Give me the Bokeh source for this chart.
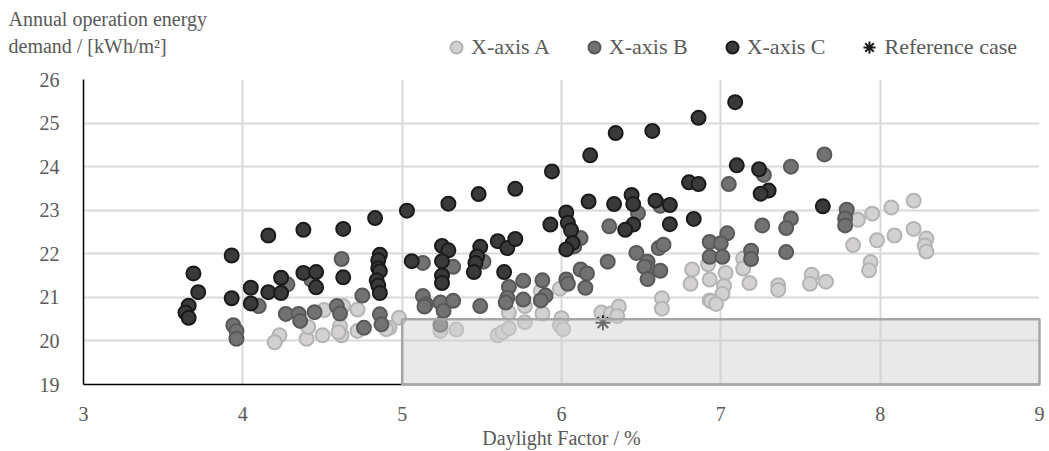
from bokeh.plotting import figure
from bokeh.models import Range1d, Label, Legend, LegendItem, FixedTicker
from bokeh.layouts import column
from bokeh.embed import file_html
from bokeh.resources import INLINE

# ---------------- data ----------------
a_x = [4.23, 4.20, 4.40, 4.41, 4.50, 4.51, 4.61, 4.62, 4.63, 4.72, 4.72, 4.92, 4.98, 4.90, 4.60,
       5.24, 5.34, 5.67, 5.77, 5.88, 5.87, 5.99, 5.77, 5.60, 5.63, 5.67, 6.00, 5.99, 6.01, 6.25,
       6.31, 6.36, 6.35, 6.63, 6.63, 6.82, 6.81, 6.92, 6.93, 6.93,
       8.21, 8.07, 7.95, 7.86, 8.21, 8.09, 7.98, 7.83, 8.29, 8.28, 8.29, 7.94, 7.93, 7.57, 7.56,
       7.66, 7.36, 7.36, 7.18, 7.14, 7.14, 7.03, 7.02, 7.01, 6.94, 6.97]
a_y = [20.13, 19.97, 20.05, 20.32, 20.13, 20.71, 20.34, 20.13, 20.80, 20.72, 20.23, 20.30, 20.53, 20.27, 20.20,
       20.23, 20.26, 20.65, 20.80, 20.63, 21.14, 21.20, 20.43, 20.13, 20.20, 20.29, 20.52, 20.36, 20.27, 20.65,
       20.63, 20.79, 20.57, 20.98, 20.74, 21.64, 21.31, 21.76, 21.41, 20.93,
       23.22, 23.06, 22.92, 22.78, 22.57, 22.42, 22.31, 22.20, 22.35, 22.19, 22.05, 21.81, 21.62, 21.52, 21.31,
       21.36, 21.28, 21.17, 21.33, 21.89, 21.66, 21.56, 21.26, 21.08, 20.91, 20.85]

b_x = [4.62, 4.28, 4.10, 3.94, 3.96, 3.96, 4.27, 4.35, 4.36, 4.45, 4.59, 4.61, 4.75, 4.76, 4.86, 4.87, 4.43,
       5.13, 5.32, 5.51, 5.13, 5.15, 5.14, 5.24, 5.26, 5.32, 5.24, 5.49, 5.67, 5.66, 5.65, 5.76, 5.76,
       5.88, 5.90, 5.87, 6.03, 6.04, 6.12, 6.16, 6.15, 6.12, 6.08, 6.30, 6.48, 6.62, 6.29, 6.47, 6.54,
       6.54, 6.52, 6.54, 6.62, 6.61, 6.64,
       7.05, 7.04, 6.93, 7.00, 6.93, 7.01, 7.65, 7.44, 7.27, 7.79, 7.78, 7.78, 7.44, 7.41, 7.26, 7.19,
       7.19, 7.41]
b_y = [21.88, 21.30, 20.80, 20.36, 20.23, 20.05, 20.62, 20.62, 20.46, 20.66, 20.80, 20.63, 21.04, 20.30, 20.61, 20.38, 21.40,
       21.79, 21.70, 21.82, 21.03, 20.84, 20.79, 20.88, 20.69, 20.92, 20.37, 20.80, 21.24, 20.99, 20.88, 21.38, 20.95,
       21.39, 21.04, 20.93, 21.41, 21.31, 21.64, 21.55, 21.22, 22.36, 22.17, 22.63, 22.93, 23.10, 21.82, 22.02, 21.82,
       21.68, 21.70, 21.42, 21.61, 22.13, 22.21,
       23.60, 22.47, 22.27, 22.24, 21.93, 21.93, 24.28, 24.00, 23.81, 23.01, 22.81, 22.65, 22.81, 22.59, 22.65, 22.07,
       21.88, 22.04]

c_x = [3.69, 3.72, 3.66, 3.64, 3.66, 3.93, 3.93, 4.16, 4.05, 4.05, 4.16, 4.24, 4.24, 4.38, 4.38, 4.46, 4.46,
       4.63, 4.63, 4.83, 4.86, 4.85, 4.85, 4.86, 4.84, 4.85, 4.86, 5.03, 5.06, 5.29, 5.48, 5.71, 5.94, 6.18,
       6.34, 6.57, 6.86, 7.09, 5.25, 5.29, 5.25, 5.25, 5.25, 5.49, 5.47, 5.46, 5.45, 5.60, 5.66, 5.71, 5.64,
       5.93, 6.03, 6.04, 6.06, 6.07, 6.03, 6.17, 6.33, 6.44, 6.45, 6.59, 6.68, 6.45, 6.40, 6.68, 6.83, 6.80,
       6.86, 7.10, 7.24, 7.30, 7.25, 7.64]
c_y = [21.55, 21.12, 20.81, 20.65, 20.53, 21.96, 20.98, 22.42, 21.22, 20.86, 21.12, 21.45, 21.10, 22.55, 21.56, 21.58, 21.23,
       22.57, 21.46, 22.82, 21.98, 21.85, 21.67, 21.60, 21.39, 21.27, 21.10, 22.99, 21.83, 23.15, 23.37, 23.49, 23.89, 24.26,
       24.77, 24.82, 25.12, 25.48, 22.18, 22.08, 21.83, 21.50, 21.33, 22.16, 21.94, 21.79, 21.58, 22.29, 22.13, 22.34, 21.58,
       22.67, 22.95, 22.71, 22.54, 22.25, 22.10, 23.20, 23.14, 23.35, 23.14, 23.22, 23.12, 22.67, 22.55, 22.68, 22.80, 23.64,
       23.60, 24.03, 23.94, 23.45, 23.38, 23.09]

ref_x = [6.26]
ref_y = [20.42]

# target region (daylight factor >= 5 %, demand <= 20.5 kWh/m2)
target_df_min, target_df_max = 5, 9
target_e_min, target_e_max = 19, 20.5

x_ticks = [3, 4, 5, 6, 7, 8, 9]
y_ticks = [19, 20, 21, 22, 23, 24, 25, 26]
series_names = ["X-axis A", "X-axis B", "X-axis C", "Reference case"]
y_title = ["Annual operation energy", "demand / [kWh/m\u00b2]"]
x_title = "Daylight Factor / %"

FONT = "Liberation Serif"
TXT = "#595959"
STYLE_A = dict(marker="circle", size=14, fill_color="#d2d0d0", line_color="#b4b4b4", line_width=2)
STYLE_B = dict(marker="circle", size=14, fill_color="#727272", line_color="#595959", line_width=2)
STYLE_C = dict(marker="circle", size=14, fill_color="#3a3a3a", line_color="#1a1a1a", line_width=2)
STYLE_R = dict(marker="asterisk", size=15, line_color="#1a1a1a", line_width=2)

# ---------------- header (y title + legend) ----------------
HDR_H = 70
hdr = figure(width=1049, height=HDR_H, output_backend="svg", toolbar_location=None,
             x_range=Range1d(0, 1049), y_range=Range1d(0, HDR_H),
             x_axis_location=None, y_axis_location=None,
             min_border=0, min_border_left=0, min_border_right=0, min_border_top=0, min_border_bottom=0)
hdr.frame_align = False
hdr.grid.visible = False
hdr.outline_line_color = None
# legend renderers: the series themselves, on a range where they stay out of view
hdr.extra_x_ranges = {"off": Range1d(1000, 1001)}
hdr.extra_y_ranges = {"off": Range1d(1000, 1001)}
off = dict(x_range_name="off", y_range_name="off")
la = hdr.scatter(a_x, a_y, **STYLE_A, **off)
lb = hdr.scatter(b_x, b_y, **STYLE_B, **off)
lc = hdr.scatter(c_x, c_y, **STYLE_C, **off)
lr = hdr.scatter(ref_x, ref_y, **STYLE_R, **off)

legend = Legend(items=[LegendItem(label=series_names[0], renderers=[la]),
                       LegendItem(label=series_names[1], renderers=[lb]),
                       LegendItem(label=series_names[2], renderers=[lc]),
                       LegendItem(label=series_names[3], renderers=[lr])],
                orientation="horizontal", location=(441, HDR_H - 62),
                label_text_font=FONT, label_text_font_size="22px", label_text_color=TXT,
                glyph_width=30, glyph_height=30, label_standoff=0, spacing=29,
                padding=0, margin=0, border_line_color=None, background_fill_alpha=0)
hdr.add_layout(legend, "center")

hdr.add_layout(Label(x=8, y=HDR_H - 18, text=y_title[0], text_font=FONT,
                     text_font_size="20px", text_color=TXT, text_baseline="middle"))
hdr.add_layout(Label(x=8, y=HDR_H - 45, text=y_title[1], text_font=FONT,
                     text_font_size="20px", text_color=TXT, text_baseline="middle"))

# ---------------- main chart ----------------
p = figure(width=1049, height=451 - HDR_H, output_backend="svg", toolbar_location=None,
           x_range=Range1d(3, 9), y_range=Range1d(19, 26),
           min_border_left=83, min_border_right=10, min_border_top=79 - HDR_H, min_border_bottom=66)
p.frame_align = False
p.outline_line_color = None

for ax in (p.xaxis[0], p.yaxis[0]):
    ax.major_tick_line_color = None
    ax.minor_tick_line_color = None
    ax.axis_line_color = "black"
    ax.axis_line_width = 1.5
    ax.major_label_text_font = FONT
    ax.major_label_text_font_size = "20px"
    ax.major_label_text_color = TXT

p.xaxis.ticker = FixedTicker(ticks=x_ticks)
p.yaxis.ticker = FixedTicker(ticks=y_ticks)
p.xaxis.major_label_standoff = 16
p.yaxis.major_label_standoff = 18
p.xaxis.axis_label = x_title
p.xaxis.axis_label_text_font = FONT
p.xaxis.axis_label_text_font_size = "20px"
p.xaxis.axis_label_text_font_style = "normal"
p.xaxis.axis_label_text_color = TXT
p.xaxis.axis_label_standoff = 3

p.xgrid.grid_line_color = "#d9d9d9"
p.ygrid.grid_line_color = "#d9d9d9"
p.xgrid.grid_line_width = 2
p.ygrid.grid_line_width = 2

p.scatter(a_x, a_y, **STYLE_A)
p.scatter(b_x, b_y, **STYLE_B)
p.scatter(c_x, c_y, **STYLE_C)
p.scatter(ref_x, ref_y, **STYLE_R)

rq = p.quad(left=[target_df_min], right=[target_df_max], bottom=[target_e_min], top=[target_e_max],
            fill_color="#cfcfcf", fill_alpha=0.45, line_color="#a6a6a6", line_width=2.5)
rq.level = "overlay"

layout = column(hdr, p, spacing=0)
open("out.html", "w").write(file_html(layout, INLINE))
